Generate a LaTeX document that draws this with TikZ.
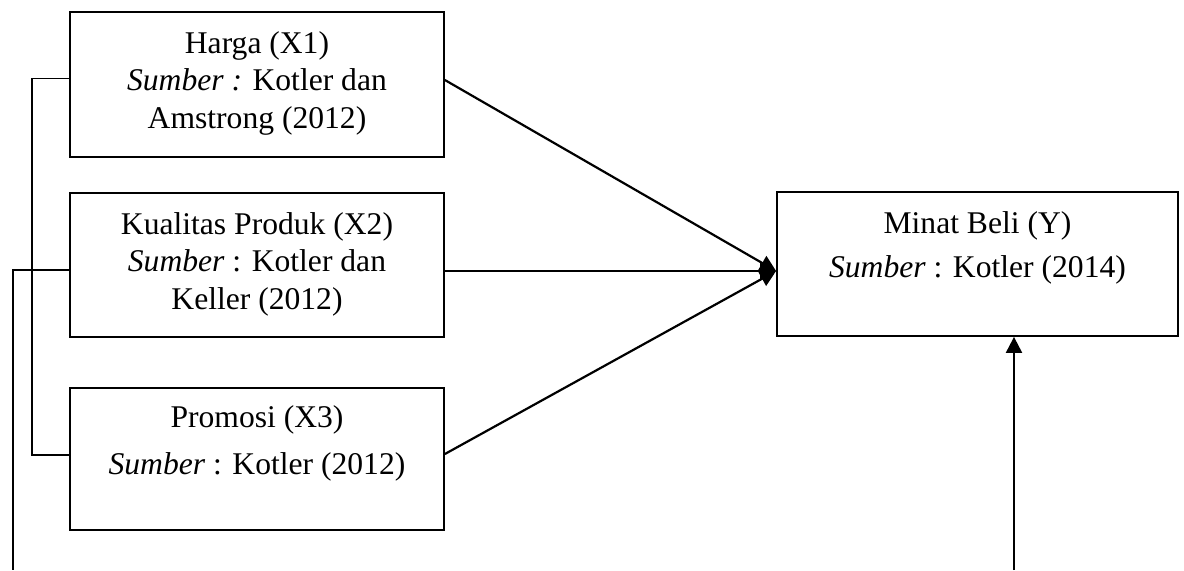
\documentclass[tikz,border=0pt]{standalone}
\usepackage{fontspec}
\setmainfont{Liberation Serif}
\usetikzlibrary{arrows.meta}
\tikzset{
  kotak/.style={draw, line width=0.9pt, minimum width=187pt, inner sep=0pt, align=center,
    text height=48.5pt, text depth=4.5pt, font=\fontsize{15.8}{18.75}\selectfont},
  panah/.style={line width=1.1pt, -{Triangle[length=8pt,width=8pt]}},
  garis/.style={line width=0.9pt}
}
\begin{document}
\begin{tikzpicture}[x=0.5pt,y=-0.5pt]
\useasboundingbox (0,0) rectangle (1184,570);
\node (harga) at (257,84.5) [kotak, minimum height=72.5pt, text height=48pt] {Harga (X1)\\ \textit{Sumber :} Kotler dan\\ Amstrong (2012)};
\node (kualitas) at (257,265) [kotak, minimum height=72pt] {Kualitas Produk (X2)\\ \textit{Sumber} : Kotler dan\\ Keller (2012)};
\node (promosi) at (257,459) [kotak, minimum height=71pt, text height=34.5pt, text depth=19.5pt] {Promosi (X3)\\[4.75pt] \textit{Sumber} : Kotler (2012)};
\node (minat) at (977.5,264) [kotak, minimum width=200.5pt, minimum height=72pt, text height=33.25pt, text depth=20.25pt] {Minat Beli (Y)\\[3.25pt] \textit{Sumber} : Kotler (2014)};
\coordinate (tip) at ([yshift=-3.5pt]minat.west);
\coordinate (bawahkiri) at (13,570);
\coordinate (bawahkanan) at (1014,570);
% panah ke Y
\draw [panah] ([yshift=2.25pt]harga.east) -- (tip);
\draw [panah] (kualitas.east |- tip) -- (tip);
\draw [panah] ([yshift=2.5pt]promosi.east) -- (tip);
\draw [panah] (bawahkanan) -- (bawahkanan |- minat.south);
% garis kiri
\draw [garis] ([yshift=3pt]harga.west) -- ++(-18.5pt,0) |- ([yshift=2pt]promosi.west);
\draw [garis] ([yshift=-2.5pt]kualitas.west) -| (bawahkiri);
\end{tikzpicture}
\end{document}
